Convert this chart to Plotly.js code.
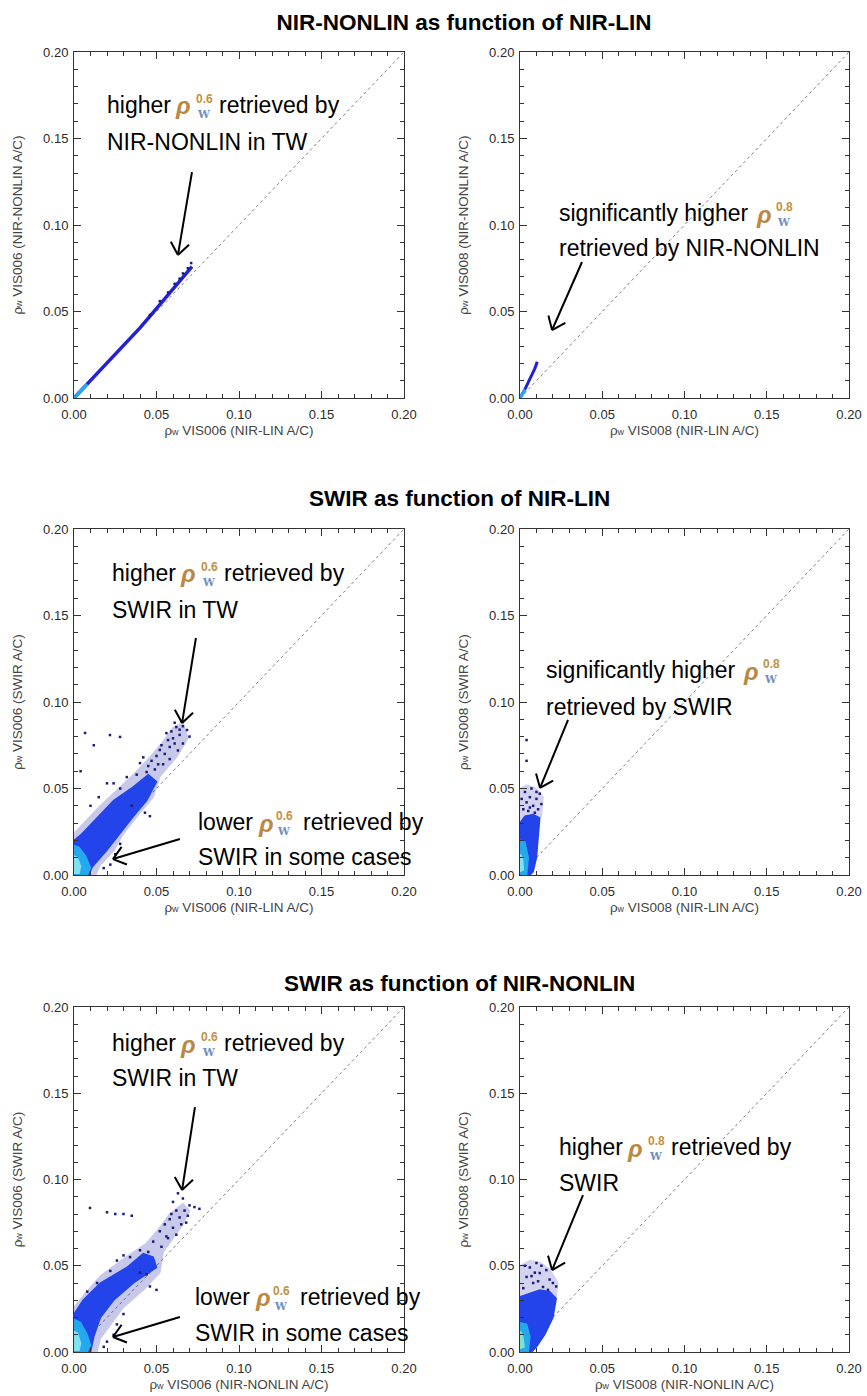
<!DOCTYPE html>
<html><head><meta charset="utf-8">
<script src="https://cdn.plot.ly/plotly-3.0.1.min.js"></script>
<style>html,body{margin:0;padding:0;background:#fff}</style>
</head><body><div id="chart" style="width:867px;height:1396px"></div>
<script>
// ---------------- data ----------------
const panelTitles = ["NIR-NONLIN as function of NIR-LIN", "SWIR as function of NIR-LIN", "SWIR as function of NIR-NONLIN"];
const xTitles = ["VIS006 (NIR-LIN A/C)", "VIS008 (NIR-LIN A/C)", "VIS006 (NIR-LIN A/C)", "VIS008 (NIR-LIN A/C)", "VIS006 (NIR-NONLIN A/C)", "VIS008 (NIR-NONLIN A/C)"];
const yTitles = ["VIS006 (NIR-NONLIN A/C)", "VIS008 (NIR-NONLIN A/C)", "VIS006 (SWIR A/C)", "VIS008 (SWIR A/C)", "VIS006 (SWIR A/C)", "VIS008 (SWIR A/C)"];
const oneToOne = [0, 0.2];

// Panel 1: NIR-NONLIN vs NIR-LIN, VIS006 (narrow band)
const p1BandX = [0.000, 0.010, 0.020, 0.030, 0.040, 0.052, 0.058, 0.064, 0.068, 0.0715];
const p1BandY = [0.000, 0.010, 0.020, 0.030, 0.0405, 0.054, 0.061, 0.068, 0.072, 0.076];
const p1CoreX = [0.000, 0.004, 0.008];
const p1CoreY = [0.000, 0.004, 0.008];
const p1DotsX = [0.046, 0.052, 0.057, 0.061, 0.064, 0.066, 0.069, 0.071];
const p1DotsY = [0.048, 0.056, 0.061, 0.066, 0.069, 0.072, 0.075, 0.078];

// Panel 2: NIR-NONLIN vs NIR-LIN, VIS008
const p2BandX = [0.000, 0.003, 0.006, 0.009, 0.0105];
const p2BandY = [0.000, 0.005, 0.011, 0.017, 0.021];
const p2CoreX = [0.000, 0.002, 0.003];
const p2CoreY = [0.000, 0.003, 0.005];

// Panel 3: SWIR vs NIR-LIN, VIS006
const p3OuterX = [0, 0, 0.006, 0.016, 0.026, 0.036, 0.046, 0.054, 0.060, 0.066, 0.069, 0.062, 0.052, 0.048, 0.040, 0.030, 0.024, 0.016, 0.013, 0];
const p3OuterY = [0, 0.024, 0.030, 0.040, 0.049, 0.058, 0.068, 0.077, 0.085, 0.088, 0.079, 0.068, 0.057, 0.045, 0.036, 0.024, 0.014, 0.006, 0, 0];
const p3BodyX = [0, 0, 0.005, 0.014, 0.024, 0.036, 0.045, 0.050, 0.044, 0.036, 0.028, 0.020, 0.011, 0.009, 0];
const p3BodyY = [0, 0.020, 0.024, 0.033, 0.043, 0.051, 0.058, 0.054, 0.043, 0.034, 0.024, 0.0145, 0.0046, 0, 0];
const p3CoreX = [0, 0, 0.003, 0.007, 0.010, 0.008, 0];
const p3CoreY = [0, 0.017, 0.016, 0.011, 0.004, 0, 0];
const p3CenterX = [0, 0, 0.002, 0.004, 0.003, 0];
const p3CenterY = [0.001, 0.011, 0.010, 0.005, 0.001, 0.001];
const p3DotsX = [0.0067, 0.0218, 0.0279, 0.024, 0.020, 0.032, 0.040, 0.044, 0.050, 0.052, 0.056, 0.062, 0.0685, 0.070, 0.058, 0.060, 0.064, 0.063, 0.055, 0.047, 0.042, 0.038, 0.028, 0.035, 0.043, 0.046, 0.015, 0.010, 0.004, 0.012, 0.066, 0.054, 0.058, 0.049, 0.061, 0.065, 0.066, 0.025, 0.022, 0.018, 0.028, 0.057, 0.061, 0.053, 0.059, 0.064, 0.051, 0.045];
const p3DotsY = [0.0821, 0.0809, 0.0798, 0.053, 0.053, 0.0566, 0.0647, 0.0595, 0.0688, 0.0723, 0.082, 0.0855, 0.0838, 0.080, 0.074, 0.079, 0.081, 0.072, 0.070, 0.066, 0.068, 0.058, 0.050, 0.040, 0.036, 0.034, 0.045, 0.040, 0.060, 0.075, 0.076, 0.064, 0.067, 0.061, 0.088, 0.089, 0.086, 0.012, 0.006, 0.004, 0.018, 0.078, 0.076, 0.075, 0.083, 0.084, 0.064, 0.063];

// Panel 4: SWIR vs NIR-LIN, VIS008
const p4OuterX = [0, 0, 0.004, 0.010, 0.014, 0.013, 0];
const p4OuterY = [0.030, 0.050, 0.052, 0.050, 0.045, 0.034, 0.030];
const p4BodyX = [0, 0, 0.003, 0.008, 0.012, 0.011, 0.010, 0.008, 0.006, 0];
const p4BodyY = [0, 0.030, 0.034, 0.035, 0.033, 0.020, 0.010, 0.002, 0, 0];
const p4CoreX = [0, 0, 0.003, 0.005, 0.004, 0];
const p4CoreY = [0, 0.020, 0.019, 0.010, 0, 0];
const p4CenterX = [0, 0, 0.0015, 0.002, 0];
const p4CenterY = [0.002, 0.012, 0.010, 0.003, 0.002];
const p4DotsX = [0.002, 0.004, 0.006, 0.008, 0.010, 0.012, 0.003, 0.007, 0.009, 0.011, 0.005, 0.013, 0.001, 0.004, 0.004, 0.006, 0.010];
const p4DotsY = [0.038, 0.042, 0.045, 0.040, 0.044, 0.047, 0.048, 0.050, 0.036, 0.038, 0.037, 0.041, 0.044, 0.066, 0.078, 0.039, 0.048];

// Panel 5: SWIR vs NIR-NONLIN, VIS006
const p5OuterX = [0, 0, 0.006, 0.016, 0.030, 0.044, 0.052, 0.058, 0.066, 0.070, 0.066, 0.060, 0.054, 0.052, 0.042, 0.030, 0.022, 0.016, 0.014, 0];
const p5OuterY = [0, 0.026, 0.033, 0.044, 0.054, 0.063, 0.072, 0.080, 0.086, 0.082, 0.074, 0.066, 0.058, 0.046, 0.036, 0.026, 0.016, 0.008, 0, 0];
const p5BodyX = [0, 0, 0.0055, 0.016, 0.032, 0.042, 0.048, 0.050, 0.036, 0.024, 0.016, 0.012, 0.010, 0];
const p5BodyY = [0, 0.022, 0.030, 0.040, 0.049, 0.057, 0.055, 0.049, 0.040, 0.030, 0.020, 0.009, 0, 0];
const p5CoreX = [0, 0, 0.004, 0.008, 0.010, 0.008, 0];
const p5CoreY = [0, 0.019, 0.017, 0.010, 0.004, 0, 0];
const p5CenterX = [0, 0, 0.002, 0.004, 0.003, 0];
const p5CenterY = [0.001, 0.012, 0.011, 0.005, 0.001, 0.001];
const p5DotsX = [0.0097, 0.020, 0.025, 0.030, 0.035, 0.060, 0.063, 0.066, 0.070, 0.073, 0.076, 0.067, 0.062, 0.058, 0.064, 0.060, 0.055, 0.052, 0.057, 0.048, 0.045, 0.026, 0.030, 0.034, 0.040, 0.046, 0.050, 0.044, 0.040, 0.014, 0.008, 0.022, 0.068, 0.053, 0.062, 0.024, 0.020, 0.018, 0.026, 0.030, 0.065, 0.059, 0.056, 0.069];
const p5DotsY = [0.0835, 0.081, 0.080, 0.080, 0.079, 0.087, 0.092, 0.089, 0.085, 0.084, 0.083, 0.082, 0.082, 0.077, 0.078, 0.072, 0.074, 0.070, 0.066, 0.064, 0.058, 0.053, 0.056, 0.055, 0.059, 0.038, 0.036, 0.045, 0.046, 0.040, 0.035, 0.047, 0.075, 0.061, 0.068, 0.010, 0.006, 0.003, 0.016, 0.022, 0.074, 0.080, 0.067, 0.079];

// Panel 6: SWIR vs NIR-NONLIN, VIS008
const p6OuterX = [0, 0, 0.006, 0.012, 0.018, 0.023, 0.022, 0];
const p6OuterY = [0.030, 0.050, 0.053, 0.052, 0.048, 0.040, 0.032, 0.030];
const p6BodyX = [0, 0, 0.006, 0.012, 0.018, 0.022, 0.020, 0.015, 0.010, 0.007, 0];
const p6BodyY = [0, 0.032, 0.034, 0.036, 0.035, 0.031, 0.020, 0.010, 0.003, 0, 0];
const p6CoreX = [0, 0, 0.004, 0.006, 0.005, 0];
const p6CoreY = [0, 0.017, 0.016, 0.009, 0, 0];
const p6CenterX = [0, 0, 0.0015, 0.0025, 0];
const p6CenterY = [0.002, 0.012, 0.010, 0.003, 0.002];
const p6DotsX = [0.002, 0.004, 0.006, 0.008, 0.010, 0.012, 0.014, 0.016, 0.018, 0.020, 0.022, 0.009, 0.003, 0.013, 0.017, 0.007, 0.011];
const p6DotsY = [0.037, 0.0435, 0.049, 0.040, 0.0516, 0.0458, 0.0377, 0.0475, 0.042, 0.040, 0.038, 0.046, 0.050, 0.050, 0.036, 0.044, 0.041];

// ---------------- styling / layout ----------------
const FONT = "Liberation Sans, Arial, Helvetica, sans-serif";
const W = 867, H = 1396;
const colPx = [[74, 404], [520, 849]];
const rowPx = [[52, 398], [529, 875], [1007, 1352]];
const C = {band: '#2222d4', outer: '#2a2ab4', body: '#2244ea', core: '#24a8ee', center: '#80e2f2', dot: '#1c1c78'};

function ax(n) { return n === 1 ? '' : String(n); }

const traces = [];
function addDiag(n) {
  traces.push({x: oneToOne, y: oneToOne, xaxis: 'x' + ax(n), yaxis: 'y' + ax(n), mode: 'lines',
    line: {color: '#808080', width: 1, dash: 'dot'}, hoverinfo: 'skip'});
}
function addLine(n, x, y, color, w) {
  traces.push({x, y, xaxis: 'x' + ax(n), yaxis: 'y' + ax(n), mode: 'lines', line: {color, width: w}, hoverinfo: 'skip'});
}
function addPoly(n, x, y, color, op) {
  traces.push({x, y, xaxis: 'x' + ax(n), yaxis: 'y' + ax(n), mode: 'lines', fill: 'toself', fillcolor: color,
    opacity: op, line: {color, width: 1.5}, hoverinfo: 'skip'});
}
function addDots(n, x, y, color, s) {
  traces.push({x, y, xaxis: 'x' + ax(n), yaxis: 'y' + ax(n), mode: 'markers',
    marker: {symbol: 'square', size: s, color, line: {width: 0}}, hoverinfo: 'skip'});
}

for (let n = 1; n <= 6; n++) addDiag(n);
addLine(1, p1BandX, p1BandY, C.band, 3.5);
addLine(1, p1CoreX, p1CoreY, C.core, 3.5);
addDots(1, p1DotsX, p1DotsY, C.dot, 2.5);
addLine(2, p2BandX, p2BandY, C.band, 3);
addLine(2, p2CoreX, p2CoreY, C.core, 3);
addPoly(3, p3OuterX, p3OuterY, C.outer, 0.25);
addPoly(3, p3BodyX, p3BodyY, C.body, 1);
addPoly(3, p3CoreX, p3CoreY, C.core, 1);
addPoly(3, p3CenterX, p3CenterY, C.center, 1);
addDots(3, p3DotsX, p3DotsY, C.dot, 2.5);
addPoly(4, p4OuterX, p4OuterY, C.outer, 0.2);
addPoly(4, p4BodyX, p4BodyY, C.body, 1);
addPoly(4, p4CoreX, p4CoreY, C.core, 1);
addPoly(4, p4CenterX, p4CenterY, C.center, 1);
addDots(4, p4DotsX, p4DotsY, C.dot, 2.5);
addPoly(5, p5OuterX, p5OuterY, C.outer, 0.25);
addPoly(5, p5BodyX, p5BodyY, C.body, 1);
addPoly(5, p5CoreX, p5CoreY, C.core, 1);
addPoly(5, p5CenterX, p5CenterY, C.center, 1);
addDots(5, p5DotsX, p5DotsY, C.dot, 2.5);
addPoly(6, p6OuterX, p6OuterY, C.outer, 0.2);
addPoly(6, p6BodyX, p6BodyY, C.body, 1);
addPoly(6, p6CoreX, p6CoreY, C.core, 1);
addPoly(6, p6CenterX, p6CenterY, '#78e6cc', 1);
addDots(6, p6DotsX, p6DotsY, C.dot, 2.5);

const TITLE_FONT = {family: FONT, size: 22.5, color: '#000', weight: 'bold'};
const layout = {
  width: W, height: H, margin: {l: 0, r: 0, t: 0, b: 0},
  paper_bgcolor: '#fff', plot_bgcolor: '#fff', showlegend: false, hovermode: false,
  font: {family: FONT, color: '#333'},
  title: {text: panelTitles[0], x: 464 / W, xanchor: 'center', y: 1 - 22 / H, yanchor: 'middle', font: TITLE_FONT},
  annotations: [], shapes: []
};

const RHO_W = 'ρ<span style="font-size:9px">w</span> ';
for (let n = 1; n <= 6; n++) {
  const col = (n - 1) % 2, row = Math.floor((n - 1) / 2);
  const xd = [colPx[col][0] / W, colPx[col][1] / W];
  const yd = [1 - rowPx[row][1] / H, 1 - rowPx[row][0] / H];
  const common = {range: [0, 0.2], tickmode: 'linear', tick0: 0, dtick: 0.05, tickformat: '.2f',
    ticks: 'inside', ticklen: 7, tickwidth: 1, tickcolor: '#333',
    minor: {ticks: 'inside', ticklen: 4, dtick: 0.01, tick0: 0, tickcolor: '#333', tickwidth: 1},
    showline: true, linecolor: '#333', linewidth: 1, mirror: 'allticks', zeroline: false, showgrid: false,
    tickfont: {family: FONT, size: 13, color: '#2a2a2a'}, fixedrange: true, automargin: false};
  layout['xaxis' + ax(n)] = Object.assign({}, common, {domain: xd, anchor: 'y' + ax(n), ticklabelstandoff: 4,
    title: {text: RHO_W + xTitles[n - 1], font: {family: FONT, size: 13.5, color: '#444'}, standoff: 4}});
  layout['yaxis' + ax(n)] = Object.assign({}, common, {domain: yd, anchor: 'x' + ax(n), ticklabelstandoff: 2,
    title: {text: RHO_W + yTitles[n - 1], font: {family: FONT, size: 13.5, color: '#444'}, standoff: 17}});
}

layout.annotations.push({xref: 'paper', yref: 'paper', x: 460 / W, y: 1 - 498 / H, xanchor: 'center', yanchor: 'middle',
  text: panelTitles[1], showarrow: false, font: TITLE_FONT});
layout.annotations.push({xref: 'paper', yref: 'paper', x: 460 / W, y: 1 - 983 / H, xanchor: 'center', yanchor: 'middle',
  text: panelTitles[2], showarrow: false, font: TITLE_FONT});

// annotation text with stacked rho symbol
const TXT = 23;
function rhoLine(n, x, y, before, after, band, offs) {
  const base = {xref: 'x' + ax(n), yref: 'y' + ax(n), x, y, xanchor: 'left', yanchor: 'middle', showarrow: false};
  layout.annotations.push(Object.assign({}, base, {text: before, font: {family: FONT, size: TXT, color: '#000'}}));
  layout.annotations.push(Object.assign({}, base, {text: 'ρ', xshift: offs[0], yshift: -1,
    font: {family: FONT, size: 24, color: '#b98842', weight: 'bold', style: 'italic'}}));
  layout.annotations.push(Object.assign({}, base, {text: band, xshift: offs[1], yshift: 6,
    font: {family: FONT, size: 12, color: '#c3913e', weight: 'bold'}}));
  layout.annotations.push(Object.assign({}, base, {text: 'W', xshift: offs[1] + 1, yshift: -9,
    font: {family: 'DejaVu Serif, serif', size: 10.5, color: '#6f8fbf', weight: 'bold'}}));
  if (after) layout.annotations.push(Object.assign({}, base, {text: after, xshift: offs[2],
    font: {family: FONT, size: TXT, color: '#000'}}));
}
function plainLine(n, x, y, text) {
  layout.annotations.push({xref: 'x' + ax(n), yref: 'y' + ax(n), x, y, xanchor: 'left', yanchor: 'middle',
    showarrow: false, text, font: {family: FONT, size: TXT, color: '#000'}});
}
// arrows drawn as line shapes (shaft + open chevron head)
function arrow(n, tailX, tailY, tipX, tipY) {
  const col = (n - 1) % 2, row = Math.floor((n - 1) / 2);
  const sx = (colPx[col][1] - colPx[col][0]) / 0.2, sy = (rowPx[row][1] - rowPx[row][0]) / 0.2;
  const dx = (tipX - tailX) * sx, dy = -(tipY - tailY) * sy;
  const len = Math.hypot(dx, dy), ux = dx / len, uy = dy / len;
  const L = 15, a = 38 * Math.PI / 180;
  const ref = {xref: 'x' + ax(n), yref: 'y' + ax(n), line: {color: '#000', width: 2}};
  layout.shapes.push(Object.assign({type: 'line', x0: tailX, y0: tailY, x1: tipX, y1: tipY}, ref));
  [a, -a].forEach(t => {
    const bx = -(ux * Math.cos(t) - uy * Math.sin(t)) * L, by = -(ux * Math.sin(t) + uy * Math.cos(t)) * L;
    layout.shapes.push(Object.assign({type: 'line', x0: tipX, y0: tipY, x1: tipX + bx / sx, y1: tipY - by / sy}, ref));
  });
}
const hiOff = [68, 89, 112], sigOff = [197, 217, 0], loOff = [60, 78, 105];

rhoLine(1, 0.0188, 0.1694, 'higher', 'retrieved by', '0.6', hiOff);
plainLine(1, 0.0188, 0.148, 'NIR-NONLIN in TW');
arrow(1, 0.0715, 0.1306, 0.063, 0.0827);

rhoLine(2, 0.0225, 0.1069, 'significantly higher', '', '0.8', sigOff);
plainLine(2, 0.0225, 0.0867, 'retrieved by NIR-NONLIN');
arrow(2, 0.0377, 0.0786, 0.0195, 0.0393);

rhoLine(3, 0.0218, 0.1746, 'higher', 'retrieved by', '0.6', hiOff);
plainLine(3, 0.0218, 0.1532, 'SWIR in TW');
arrow(3, 0.0739, 0.137, 0.0655, 0.0879);
rhoLine(3, 0.0739, 0.0306, 'lower', 'retrieved by', '0.6', loOff);
plainLine(3, 0.0739, 0.0104, 'SWIR in some cases');
arrow(3, 0.0642, 0.0208, 0.0236, 0.0092);

rhoLine(4, 0.0146, 0.1185, 'significantly higher', '', '0.8', sigOff);
plainLine(4, 0.0146, 0.0971, 'retrieved by SWIR');
arrow(4, 0.0292, 0.0896, 0.0122, 0.0503);

rhoLine(5, 0.0218, 0.1791, 'higher', 'retrieved by', '0.6', hiOff);
plainLine(5, 0.0218, 0.1588, 'SWIR in TW');
arrow(5, 0.0733, 0.142, 0.0655, 0.0939);
rhoLine(5, 0.0721, 0.0319, 'lower', 'retrieved by', '0.6', loOff);
plainLine(5, 0.0721, 0.011, 'SWIR in some cases');
arrow(5, 0.0642, 0.0203, 0.0236, 0.0087);

rhoLine(6, 0.0225, 0.1188, 'higher', 'retrieved by', '0.8', hiOff);
plainLine(6, 0.0225, 0.098, 'SWIR');
arrow(6, 0.0383, 0.091, 0.0195, 0.0475);

Plotly.newPlot('chart', traces, layout, {displayModeBar: false, staticPlot: true});
</script></body></html>
